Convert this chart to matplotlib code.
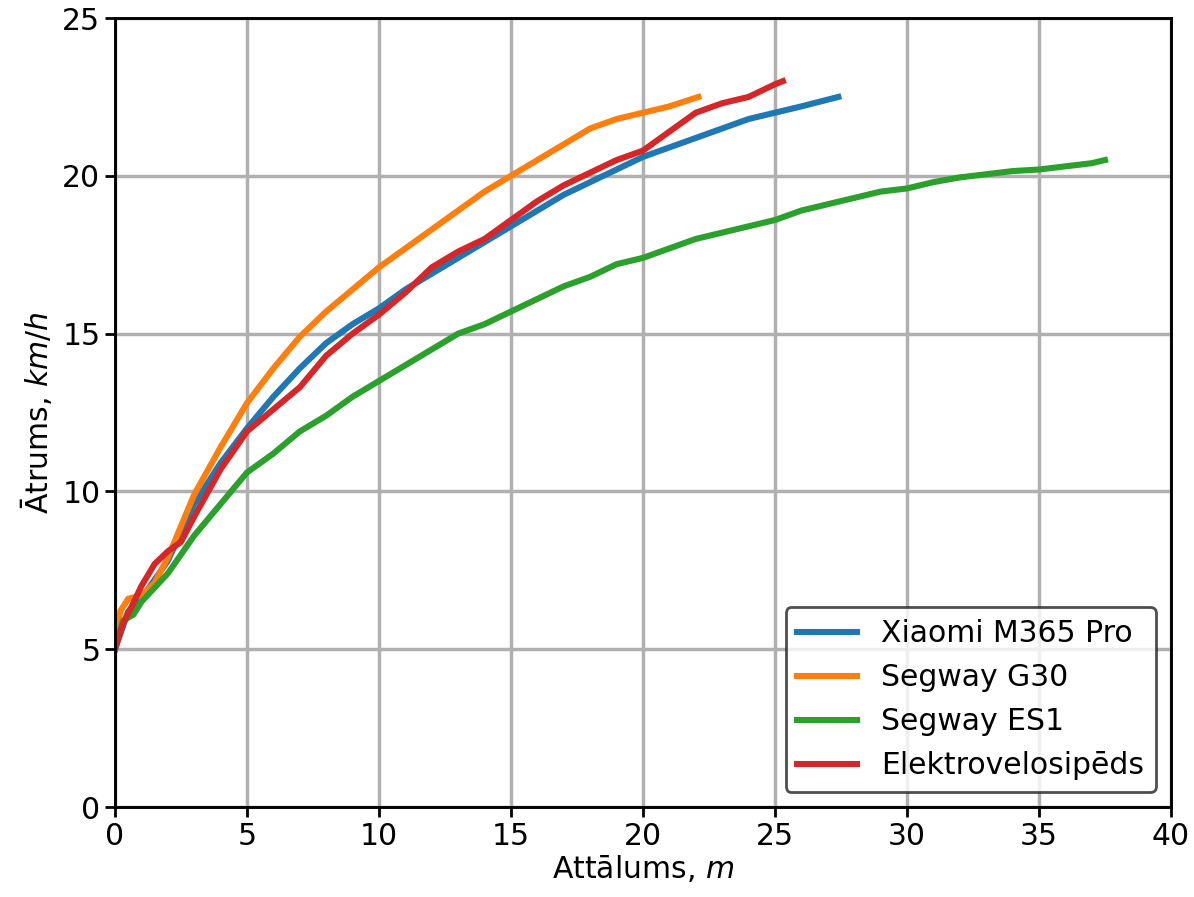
import matplotlib
matplotlib.use('Agg')
import matplotlib.pyplot as plt

# Distance (m) and speed (km/h)
xiaomi_x = [0, 0.5, 1, 2, 3, 4, 5, 6, 7, 8, 9, 10, 11, 12, 13, 14, 15, 16, 17, 18,
            19, 20, 21, 22, 23, 24, 25, 26, 27.4]
xiaomi_y = [5, 6.2, 6.6, 7.8, 9.6, 10.9, 12.0, 13.0, 13.9, 14.7, 15.3, 15.8, 16.4, 16.9,
            17.4, 17.9, 18.4, 18.9, 19.4, 19.8, 20.2, 20.6, 20.9, 21.2, 21.5, 21.8,
            22.0, 22.2, 22.5]

g30_x = [0, 0.2, 0.5, 1, 1.5, 2, 3, 4, 5, 6, 7, 8, 9, 10, 11, 12, 13, 14, 15, 16,
         17, 18, 19, 20, 21, 22.1]
g30_y = [5, 6.2, 6.6, 6.7, 7.1, 7.9, 9.9, 11.4, 12.8, 13.9, 14.9, 15.7, 16.4, 17.1,
         17.7, 18.3, 18.9, 19.5, 20.0, 20.5, 21.0, 21.5, 21.8, 22.0, 22.2, 22.5]

es1_x = [0, 0.3, 0.7, 1, 2, 3, 4, 5, 6, 7, 8, 9, 10, 11, 12, 13, 14, 15, 16, 17, 18,
         19, 20, 21, 22, 23, 24, 25, 26, 27, 28, 29, 30, 31, 32, 33, 34, 35, 36, 37, 37.5]
es1_y = [5, 5.9, 6.1, 6.5, 7.4, 8.6, 9.6, 10.6, 11.2, 11.9, 12.4, 13.0, 13.5, 14.0,
         14.5, 15.0, 15.3, 15.7, 16.1, 16.5, 16.8, 17.2, 17.4, 17.7, 18.0, 18.2, 18.4,
         18.6, 18.9, 19.1, 19.3, 19.5, 19.6, 19.8, 19.95, 20.05, 20.15, 20.2, 20.3,
         20.4, 20.5]

bike_x = [0, 0.3, 0.6, 1, 1.5, 2, 2.5, 3, 4, 5, 6, 7, 8, 9, 10, 11, 12, 13, 14, 15,
          16, 17, 18, 19, 20, 21, 22, 23, 24, 25, 25.3]
bike_y = [5, 5.8, 6.3, 7.0, 7.7, 8.1, 8.4, 9.2, 10.7, 11.9, 12.6, 13.3, 14.3, 15.0,
          15.6, 16.3, 17.1, 17.6, 18.0, 18.6, 19.2, 19.7, 20.1, 20.5, 20.8, 21.4,
          22.0, 22.3, 22.5, 22.9, 23.0]

plt.rcParams['font.size'] = 21.5

fig = plt.figure(figsize=(11.94, 8.97), dpi=100)
ax = fig.add_axes([0.0963, 0.1003, 0.8844, 0.8796])

lw = 4.4
ax.plot(xiaomi_x, xiaomi_y, lw=lw, color='#1f77b4', label='Xiaomi M365 Pro', solid_joinstyle='round')
ax.plot(g30_x, g30_y, lw=lw, color='#ff7f0e', label='Segway G30', solid_joinstyle='round')
ax.plot(es1_x, es1_y, lw=lw, color='#2ca02c', label='Segway ES1', solid_joinstyle='round')
ax.plot(bike_x, bike_y, lw=lw, color='#d62728', label='Elektrovelosipēds', solid_joinstyle='round')

ax.set_xlim(0, 40)
ax.set_ylim(0, 25)
ax.set_xticks(range(0, 41, 5))
ax.set_yticks(range(0, 26, 5))
ax.grid(True, color='#b0b0b0', lw=2.5)
ax.tick_params(length=7, width=2)
for s in ax.spines.values():
    s.set_linewidth(2.1)

ax.set_xlabel('Attālums, $m$', labelpad=2)
ax.set_ylabel('Ātrums, $km/h$', labelpad=6)

leg = ax.legend(loc='lower right', fancybox=True, handlelength=2.0)
leg.get_frame().set_edgecolor('#222222')
leg.get_frame().set_linewidth(2.0)

fig.savefig('out.png', dpi=100)
